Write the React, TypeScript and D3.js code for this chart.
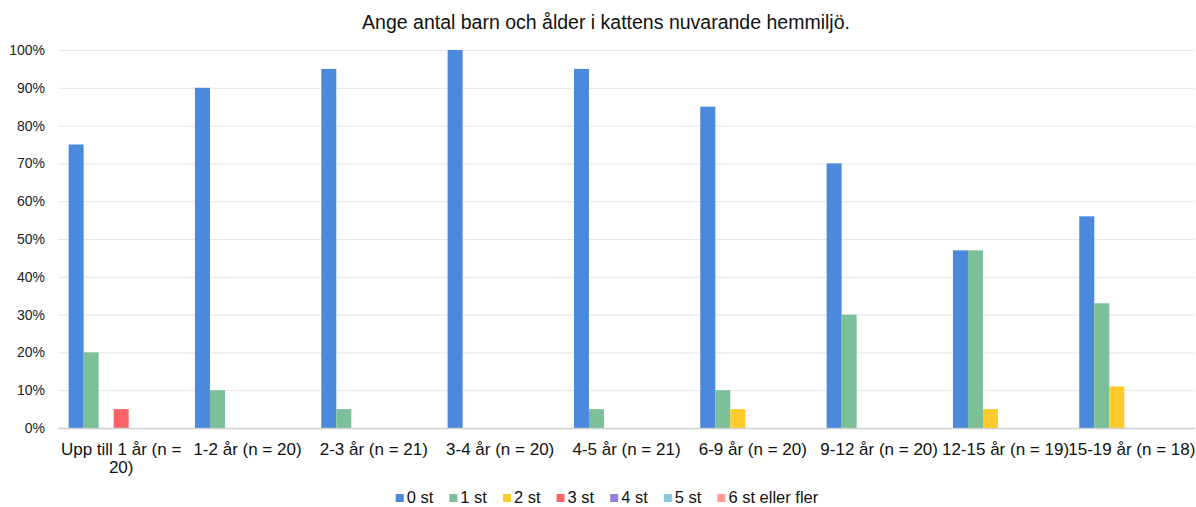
import { useEffect, useRef } from 'react'
import * as d3 from 'd3'

const title = 'Ange antal barn och ålder i kattens nuvarande hemmiljö.'

const categories = [
  'Upp till 1 år (n = 20)',
  '1-2 år (n = 20)',
  '2-3 år (n = 21)',
  '3-4 år (n = 20)',
  '4-5 år (n = 21)',
  '6-9 år (n = 20)',
  '9-12 år (n = 20)',
  '12-15 år (n = 19)',
  '15-19 år (n = 18)',
]

const seriesNames = ['0 st', '1 st', '2 st', '3 st', '4 st', '5 st', '6 st eller fler']
const seriesColors = ['#4a89dc', '#7cc09a', '#fdcb2b', '#fd6468', '#9a7ede', '#8ec5d8', '#ff9a8e']

// values in percent, one array per series
const st0 = [75, 90, 95, 100, 95, 85, 70, 47, 56]
const st1 = [20, 10, 5, 0, 5, 10, 30, 47, 33]
const st2 = [0, 0, 0, 0, 0, 5, 0, 5, 11]
const st3 = [5, 0, 0, 0, 0, 0, 0, 0, 0]
const st4 = [0, 0, 0, 0, 0, 0, 0, 0, 0]
const st5 = [0, 0, 0, 0, 0, 0, 0, 0, 0]
const st6 = [0, 0, 0, 0, 0, 0, 0, 0, 0]

const yTicks = [0, 10, 20, 30, 40, 50, 60, 70, 80, 90, 100]

export default function App() {
  const ref = useRef<SVGSVGElement>(null)

  useEffect(() => {
    if (!ref.current) return
    document.body.style.margin = '0'
    const svg = d3.select(ref.current)
    svg.selectAll('*').remove()

    const width = 1196
    const height = 507
    const margin = { top: 50, right: 1, bottom: 79, left: 58 }
    const font = 'Liberation Sans, Arial, Helvetica, sans-serif'

    const series = [st0, st1, st2, st3, st4, st5, st6]

    const x = d3
      .scaleBand()
      .domain(categories)
      .range([margin.left, width - margin.right])
      .paddingInner(0.168)
      .paddingOuter(0.084)

    const xs = d3
      .scaleBand()
      .domain(seriesNames)
      .range([0, x.bandwidth()])

    const y = d3
      .scaleLinear()
      .domain([0, 100])
      .range([height - margin.bottom, margin.top])

    // gridlines
    svg
      .append('g')
      .selectAll('line')
      .data(yTicks.slice(1))
      .enter()
      .append('line')
      .attr('x1', margin.left)
      .attr('x2', width - margin.right)
      .attr('y1', (d) => y(d) + 0.5)
      .attr('y2', (d) => y(d) + 0.5)
      .attr('stroke', '#e6e6e6')
      .attr('stroke-width', 1)

    // y labels
    svg
      .append('g')
      .selectAll('text')
      .data(yTicks)
      .enter()
      .append('text')
      .attr('x', 45)
      .attr('y', (d) => y(d))
      .attr('dy', '0.35em')
      .attr('text-anchor', 'end')
      .style('font-family', font)
      .style('font-size', '14px')
      .style('fill', '#222')
      .text((d) => d + '%')

    // bars
    const groups = svg
      .append('g')
      .selectAll('g')
      .data(categories)
      .enter()
      .append('g')
      .attr('transform', (d) => `translate(${x(d)},0)`)

    groups
      .selectAll('rect')
      .data((_, i) => series.map((s, j) => ({ name: seriesNames[j], color: seriesColors[j], v: s[i] })))
      .enter()
      .filter((d) => d.v > 0)
      .append('rect')
      .attr('x', (d) => xs(d.name) || 0)
      .attr('width', xs.bandwidth())
      .attr('y', (d) => y(d.v))
      .attr('height', (d) => y(0) - y(d.v))
      .attr('fill', (d) => d.color)

    // baseline
    svg
      .append('line')
      .attr('x1', margin.left)
      .attr('x2', width - margin.right)
      .attr('y1', y(0) + 0.5)
      .attr('y2', y(0) + 0.5)
      .attr('stroke', '#cfcfcf')
      .attr('stroke-width', 1.5)

    // category labels, wrapped to the band step
    const step = x.step()
    svg
      .append('g')
      .selectAll('text')
      .data(categories)
      .enter()
      .append('text')
      .attr('x', (d) => (x(d) || 0) + x.bandwidth() / 2)
      .attr('y', 455)
      .attr('text-anchor', 'middle')
      .style('font-family', font)
      .style('font-size', '17px')
      .style('fill', '#111')
      .each(function (d) {
        const el = d3.select(this)
        const words = d.split(' ')
        let line: string[] = []
        let tspan = el.append('tspan').attr('x', el.attr('x')).attr('dy', 0)
        for (const w of words) {
          line.push(w)
          tspan.text(line.join(' '))
          const node = tspan.node() as SVGTSpanElement
          if (node.getComputedTextLength() > step + 4 && line.length > 1) {
            line.pop()
            tspan.text(line.join(' '))
            line = [w]
            tspan = el.append('tspan').attr('x', el.attr('x')).attr('dy', 18).text(w)
          }
        }
      })

    // title
    svg
      .append('text')
      .attr('x', 606)
      .attr('y', 29)
      .attr('text-anchor', 'middle')
      .style('font-family', font)
      .style('font-size', '19.5px')
      .style('fill', '#111')
      .text(title)

    // legend
    const legend = svg.append('g')
    let lx = 0
    const items: { g: d3.Selection<SVGGElement, unknown, null, undefined>; w: number }[] = []
    seriesNames.forEach((n, i) => {
      const g = legend.append('g')
      g.append('rect')
        .attr('x', 0)
        .attr('y', -9)
        .attr('width', 8)
        .attr('height', 8)
        .attr('fill', seriesColors[i])
      const t = g
        .append('text')
        .attr('x', 11)
        .attr('y', 0)
        .style('font-family', font)
        .style('font-size', '16.5px')
        .style('fill', '#111')
        .text(n)
      const tw = (t.node() as SVGTextElement).getComputedTextLength()
      items.push({ g, w: 11 + tw })
    })
    items.forEach((it, i) => {
      it.g.attr('transform', `translate(${lx},0)`)
      lx += it.w + (i < items.length - 1 ? 16 : 0)
    })
    legend.attr('transform', `translate(${607 - lx / 2},503)`)
  }, [])

  return <svg ref={ref} width={1196} height={507} style={{ display: 'block', background: '#fff' }} />
}
